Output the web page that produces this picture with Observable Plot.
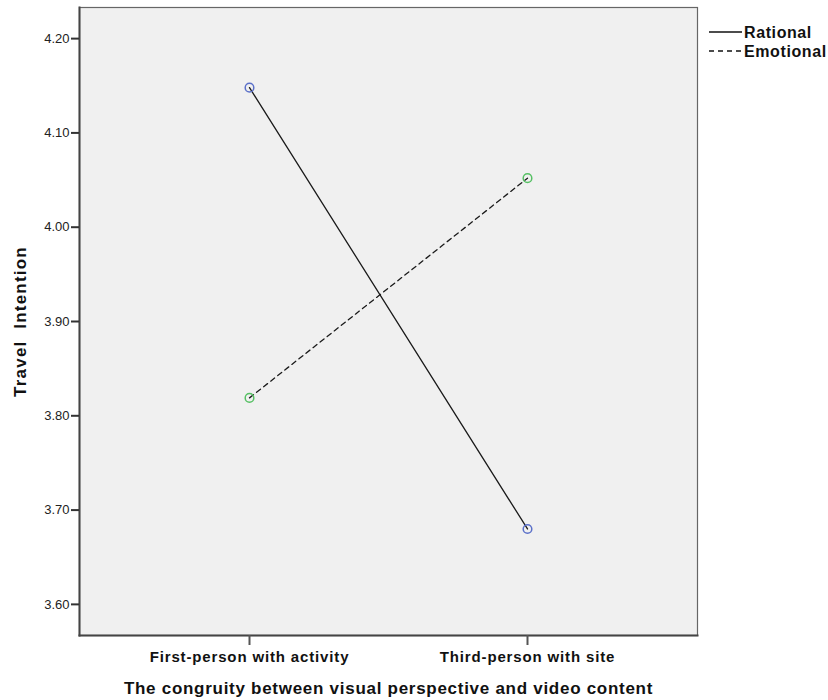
<!DOCTYPE html>
<html>
<head>
<meta charset="utf-8">
<script src="https://cdn.jsdelivr.net/npm/d3@7"></script>
<script src="https://cdn.jsdelivr.net/npm/@observablehq/plot@0.6"></script>
<style>
  body { margin: 0; background: #fff; font-family: "Liberation Sans", Arial, sans-serif; }
  #wrap { position: relative; width: 828px; height: 700px; }
  #legend { position: absolute; left: 706px; top: 23px; }
</style>
</head>
<body>
<div id="wrap"><div id="legend"></div></div>
<script>
const categories = ["First-person with activity", "Third-person with site"];
const seriesNames = ["Rational", "Emotional"];
const rationalValues = [4.148, 3.680];
const emotionalValues = [3.819, 4.052];
const yTicks = [3.60, 3.70, 3.80, 3.90, 4.00, 4.10, 4.20];
const yLabel = "Travel  Intention";
const xLabel = "The congruity between visual perspective and video content";
const dotColors = ["#5b70c9", "#56c064"];
const dashes = ["none", "5,4"];

const data = [];
categories.forEach((c, i) => {
  data.push({cat: c, series: "Rational", value: rationalValues[i]});
  data.push({cat: c, series: "Emotional", value: emotionalValues[i]});
});
const rational = data.filter(d => d.series === "Rational");
const emotional = data.filter(d => d.series === "Emotional");

const chart = Plot.plot({
  width: 828,
  height: 700,
  marginLeft: 79,
  marginRight: 131,
  marginTop: 7,
  marginBottom: 65,
  style: {fontFamily: "Liberation Sans, Arial, sans-serif", color: "#222", background: "#fff"},
  x: {type: "point", domain: categories, padding: 0.61},
  y: {domain: [3.567, 4.233]},
  marks: [
    Plot.frame({fill: "#f0f0f0", stroke: "#666", strokeWidth: 1.2}),
    Plot.frame({anchor: "left", stroke: "#444", strokeWidth: 2}),
    Plot.frame({anchor: "bottom", stroke: "#444", strokeWidth: 2}),
    Plot.axisY({ticks: yTicks, tickFormat: d3.format(".2f"), tickSize: 8, tickPadding: 2, fontSize: 13, label: null, stroke: "#333", strokeWidth: 2, fill: "#222"}),
    Plot.axisX({tickSize: 10, tickPadding: 6, fontSize: 15, fontWeight: "bold", label: null, stroke: "#555", strokeWidth: 2, fill: "#111"}),
    Plot.line(rational, {x: "cat", y: "value", stroke: "#1a1a1a", strokeWidth: 1.3}),
    Plot.line(emotional, {x: "cat", y: "value", stroke: "#1a1a1a", strokeWidth: 1.3, strokeDasharray: dashes[1]}),
    Plot.dot(rational, {x: "cat", y: "value", r: 4.3, stroke: dotColors[0], strokeWidth: 1.5, fill: "none"}),
    Plot.dot(emotional, {x: "cat", y: "value", r: 4.3, stroke: dotColors[1], strokeWidth: 1.5, fill: "none"}),
    Plot.text([yLabel], {frameAnchor: "left", textAnchor: "middle", dx: -59, rotate: -90, text: d => d, fontSize: 17, fontWeight: "bold", fill: "#111"}),
    Plot.text([xLabel], {frameAnchor: "bottom", dy: 58, text: d => d, fontSize: 17, fontWeight: "bold", fill: "#111"})
  ]
});
document.getElementById("wrap").prepend(chart);
const svgSel = d3.select(chart);
svgSel.selectAll('g[aria-label="x-axis tick label"] text').style("letter-spacing", "0.85px");
svgSel.selectAll("text").each(function() {
  const t = this.textContent;
  if (t === yLabel) d3.select(this).style("letter-spacing", "1.2px");
  if (t === xLabel) d3.select(this).style("letter-spacing", "0.72px");
});

// legend
const lg = d3.select("#legend").append("svg").attr("width", 122).attr("height", 40)
  .style("font-family", "Liberation Sans, Arial, sans-serif");
seriesNames.forEach((name, i) => {
  const y = 9 + i * 19;
  lg.append("line").attr("x1", 3).attr("x2", 36).attr("y1", y).attr("y2", y)
    .attr("stroke", "#111").attr("stroke-width", 1.5)
    .attr("stroke-dasharray", dashes[i]);
  lg.append("text").attr("x", 38).attr("y", y).attr("dy", "0.35em")
    .attr("font-size", 16).attr("font-weight", "bold").attr("fill", "#111")
    .style("letter-spacing", "0.6px").text(name);
});
</script>
</body>
</html>
